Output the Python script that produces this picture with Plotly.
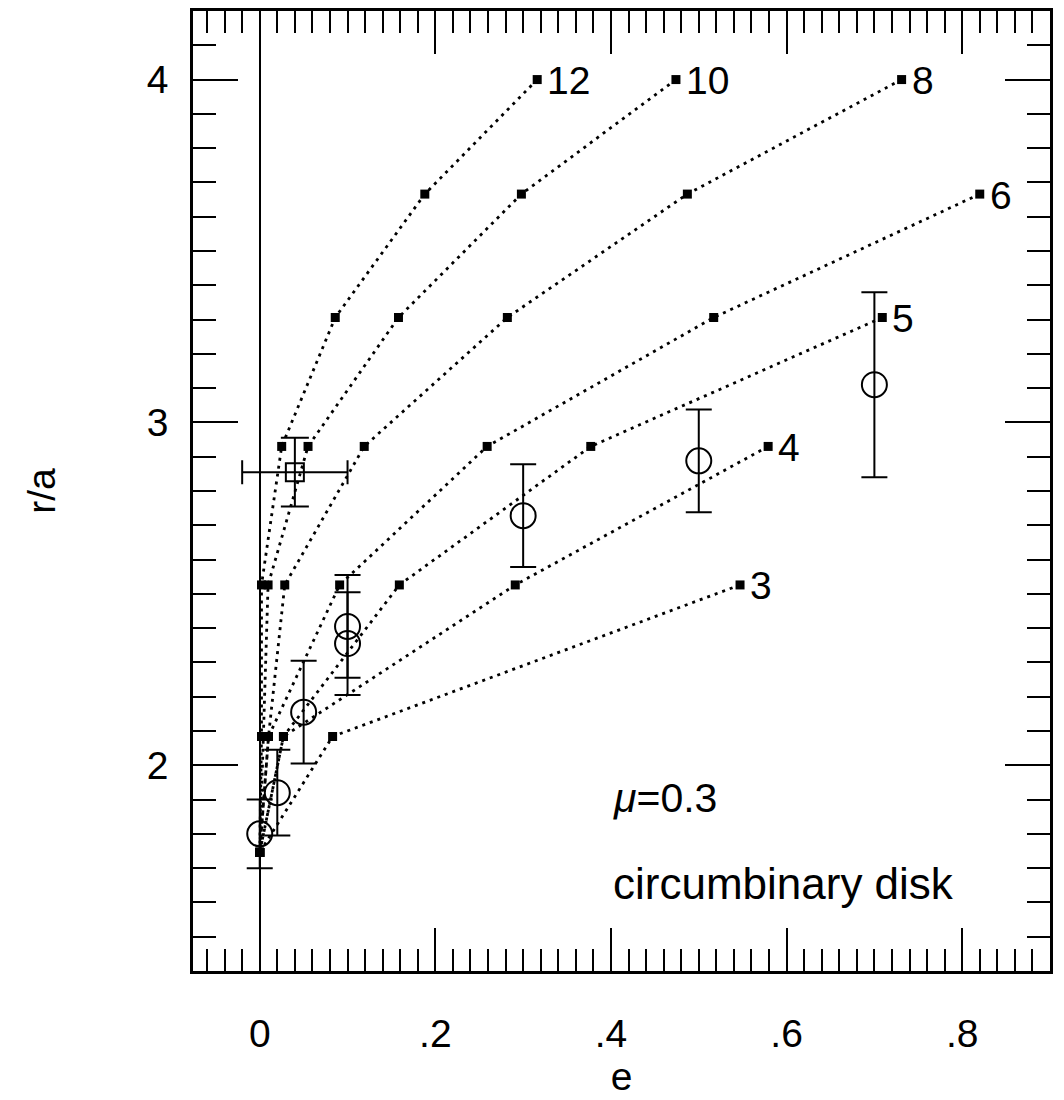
import plotly.graph_objects as go

# Resonance curve data (e, r/a) for each label
curve_labels = ["12", "10", "8", "6", "5", "4", "3"]
c12_e = [0.316, 0.188, 0.086, 0.025, 0.002, 0.002, 0.0]
c12_r = [4.000, 3.666, 3.306, 2.930, 2.526, 2.084, 1.746]
c10_e = [0.474, 0.298, 0.158, 0.055, 0.0095, 0.004, 0.0]
c10_r = [4.000, 3.666, 3.306, 2.930, 2.526, 2.084, 1.746]
c8_e = [0.731, 0.487, 0.282, 0.119, 0.0285, 0.010, 0.0]
c8_r = [4.000, 3.666, 3.306, 2.930, 2.526, 2.084, 1.746]
c6_e = [0.820, 0.517, 0.259, 0.091, 0.010, 0.0]
c6_r = [3.666, 3.306, 2.930, 2.526, 2.084, 1.746]
c5_e = [0.709, 0.377, 0.159, 0.027, 0.0]
c5_r = [3.306, 2.930, 2.526, 2.084, 1.746]
c4_e = [0.579, 0.291, 0.027, 0.0]
c4_r = [2.930, 2.526, 2.084, 1.746]
c3_e = [0.547, 0.083, 0.0]
c3_r = [2.526, 2.084, 1.746]

# Simulation results (open circles) with errors
sim_e = [0.0, 0.02, 0.05, 0.10, 0.10, 0.30, 0.50, 0.70]
sim_r = [1.80, 1.92, 2.155, 2.405, 2.355, 2.728, 2.888, 3.11]
sim_err = [0.10, 0.125, 0.15, 0.15, 0.15, 0.15, 0.15, 0.27]

# Observed system (open square) with errors
obs_e = [0.04]
obs_r = [2.855]
obs_e_err = [0.06]
obs_r_err = [0.10]

# Tick labels
x_tickvals = [0, 0.2, 0.4, 0.6, 0.8]
x_ticktext = ["0", ".2", ".4", ".6", ".8"]
y_tickvals = [2, 3, 4]
y_ticktext = ["2", "3", "4"]

curves = [(c12_e, c12_r), (c10_e, c10_r), (c8_e, c8_r), (c6_e, c6_r),
          (c5_e, c5_r), (c4_e, c4_r), (c3_e, c3_r)]

FONT = "Liberation Sans, Arial, Helvetica, sans-serif"

fig = go.Figure()

for (ex, ry), lab in zip(curves, curve_labels):
    fig.add_trace(go.Scatter(
        x=ex, y=ry, mode="lines+markers", name=lab,
        line=dict(color="black", width=2.8, dash="3px,5px"),
        marker=dict(symbol="square", size=9, color="black"),
        showlegend=False))

fig.add_trace(go.Scatter(
    x=sim_e, y=sim_r, mode="markers",
    marker=dict(symbol="circle-open", size=25, color="black", line=dict(width=2)),
    error_y=dict(type="data", array=sim_err, visible=True, color="black",
                 thickness=2, width=13),
    showlegend=False))

fig.add_trace(go.Scatter(
    x=obs_e, y=obs_r, mode="markers",
    marker=dict(symbol="square-open", size=18, color="black", line=dict(width=2)),
    error_y=dict(type="data", array=obs_r_err, visible=True, color="black",
                 thickness=2, width=14),
    error_x=dict(type="data", array=obs_e_err, visible=True, color="black",
                 thickness=2, width=12),
    showlegend=False))

annotations = []
for (ex, ry), lab in zip(curves, curve_labels):
    annotations.append(dict(x=ex[0], y=ry[0], xref="x", yref="y", text=lab,
                            showarrow=False, xanchor="left", yanchor="middle",
                            xshift=8, yshift=-1,
                            font=dict(family=FONT, size=39, color="black")))

annotations.append(dict(x=0.40, y=1.905, xref="x", yref="y",
                        text="<i>μ</i>=0.3", showarrow=False,
                        xanchor="left", yanchor="middle",
                        font=dict(family=FONT, size=41, color="black")))
annotations.append(dict(x=0.40, y=1.655, xref="x", yref="y",
                        text="circumbinary disk", showarrow=False,
                        xanchor="left", yanchor="middle",
                        font=dict(family=FONT, size=44, color="black")))

fig.update_layout(
    width=1064, height=1100,
    margin=dict(l=193, r=14, t=8, b=124),
    paper_bgcolor="white", plot_bgcolor="white",
    font=dict(family=FONT, size=38, color="black"),
    annotations=annotations,
    xaxis=dict(
        range=[-0.076, 0.9], tickmode="array", tickvals=x_tickvals,
        ticktext=x_ticktext, ticks="inside", ticklen=43, tickwidth=2,
        tickcolor="black", showline=True, linecolor="black", linewidth=2.5,
        mirror="ticks", showgrid=False,
        zeroline=True, zerolinecolor="black", zerolinewidth=1.5,
        ticklabelstandoff=26,
        tickfont=dict(family=FONT, size=39),
        minor=dict(tickmode="linear", tick0=0, dtick=0.02, ticks="inside",
                   ticklen=22, tickwidth=2, tickcolor="black", showgrid=False),
        title=dict(text="e", font=dict(family=FONT, size=39), standoff=10),
    ),
    yaxis=dict(
        range=[1.4, 4.2], tickmode="array", tickvals=y_tickvals,
        ticktext=y_ticktext, ticks="inside", ticklen=45, tickwidth=2,
        tickcolor="black", showline=True, linecolor="black", linewidth=2.5,
        mirror="ticks", showgrid=False, zeroline=False,
        ticklabelstandoff=14,
        tickfont=dict(family=FONT, size=39),
        minor=dict(tickmode="linear", tick0=0, dtick=0.1, ticks="inside",
                   ticklen=23, tickwidth=2, tickcolor="black", showgrid=False),
        title=dict(text="r/a", font=dict(family=FONT, size=39), standoff=80),
    ),
)

fig.write_html("out.html")
